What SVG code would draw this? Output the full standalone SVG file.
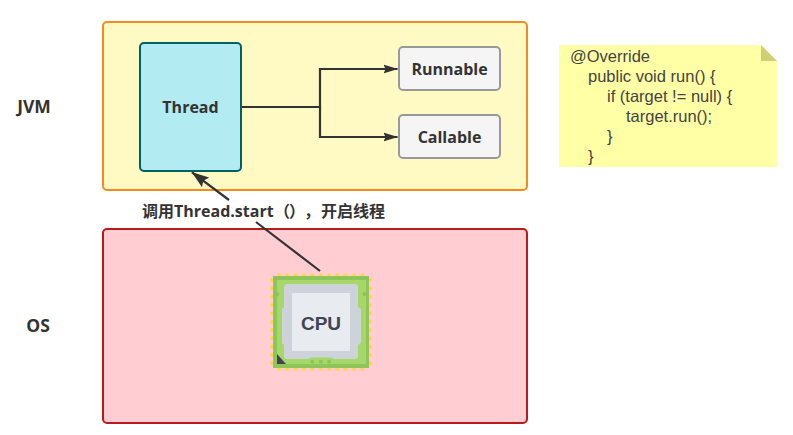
<svg xmlns="http://www.w3.org/2000/svg" width="793" height="435" viewBox="0 0 793 435">
<style>
text{font-family:"Open Sans","Noto Sans CJK SC","Liberation Sans",sans-serif;fill:#333}
.b{font-weight:700;font-size:16px;text-anchor:middle;dominant-baseline:central}
.side{font-size:17.500px}
.code{font-size:16.500px;font-family:"Liberation Sans","Open Sans",sans-serif;fill:#444}
.line{fill:none;stroke:#333;stroke-width:2.200}
.box{fill:#f5f5f5;stroke:#999;stroke-width:2}
.dot{fill:#ffd54f}
.pin{fill:#8fc45a}
</style>
<defs>
<marker id="arr" markerUnits="userSpaceOnUse" markerWidth="15" markerHeight="11" refX="14" refY="5.500" orient="auto"><path d="M0,1L14.500,5.500L0,10L2,5.500Z" fill="#333"/></marker>
<marker id="arr2" markerUnits="userSpaceOnUse" markerWidth="18" markerHeight="14" refX="17" refY="7" orient="auto"><path d="M0,1L17.500,7L0,13L3,7Z" fill="#333"/></marker>
</defs>
<rect width="793" height="435" fill="#fff"/>
<g id="jvm"><rect x="103" y="22" width="424" height="168" rx="4" fill="#fff9c4" stroke="#f58a1f" stroke-width="2"/></g>
<g id="os"><rect x="103" y="229" width="424" height="194" rx="4" fill="#ffcdd2" stroke="#b71c1c" stroke-width="2"/></g>
<g id="connectors">
<path class="line" d="M242 107H320V69H397.500" marker-end="url(#arr)"/>
<path class="line" d="M320 107V137H397.500" marker-end="url(#arr)"/>
<path class="line" d="M229 200L192 172.300" marker-end="url(#arr2)"/>
<path class="line" d="M256 222L320 271"/>
</g>
<g id="thread"><rect x="140" y="43" width="101" height="128" rx="4" fill="#b2ebf2" stroke="#006064" stroke-width="2"/><text class="b" x="190.500" y="107">Thread</text></g>
<g id="runnable"><rect class="box" x="399" y="47" width="101" height="43" rx="4"/><text class="b" x="449.500" y="69">Runnable</text></g>
<g id="callable"><rect class="box" x="399" y="115" width="101" height="43" rx="4"/><text class="b" x="449.500" y="137">Callable</text></g>
<g id="label-jvm"><text class="b side" x="34" y="106">JVM</text></g>
<g id="label-os"><text class="b side" x="38" y="325">OS</text></g>
<g id="call-label"><text y="211" font-size="16" font-weight="700" dominant-baseline="central"><tspan x="142">调用Thread.start</tspan><tspan x="274">（</tspan><tspan x="289">）</tspan><tspan x="304">，</tspan><tspan x="321">开启线程</tspan></text></g>
<g id="cpu">
<g class="dot">
<circle cx="279" cy="275" r="2"/><circle cx="287.300" cy="275" r="2"/><circle cx="295.700" cy="275" r="2"/><circle cx="304" cy="275" r="2"/><circle cx="312.300" cy="275" r="2"/><circle cx="320.700" cy="275" r="2"/><circle cx="329" cy="275" r="2"/><circle cx="337.300" cy="275" r="2"/><circle cx="345.700" cy="275" r="2"/><circle cx="354" cy="275" r="2"/><circle cx="362.300" cy="275" r="2"/>
<circle cx="279" cy="369" r="2"/><circle cx="287.300" cy="369" r="2"/><circle cx="295.700" cy="369" r="2"/><circle cx="304" cy="369" r="2"/><circle cx="312.300" cy="369" r="2"/><circle cx="320.700" cy="369" r="2"/><circle cx="329" cy="369" r="2"/><circle cx="337.300" cy="369" r="2"/><circle cx="345.700" cy="369" r="2"/><circle cx="354" cy="369" r="2"/><circle cx="362.300" cy="369" r="2"/>
<circle cx="272" cy="280" r="2"/><circle cx="272" cy="288.300" r="2"/><circle cx="272" cy="296.700" r="2"/><circle cx="272" cy="305" r="2"/><circle cx="272" cy="313.300" r="2"/><circle cx="272" cy="321.700" r="2"/><circle cx="272" cy="330" r="2"/><circle cx="272" cy="338.300" r="2"/><circle cx="272" cy="346.700" r="2"/><circle cx="272" cy="355" r="2"/><circle cx="272" cy="363.300" r="2"/>
<circle cx="370" cy="280" r="2"/><circle cx="370" cy="288.300" r="2"/><circle cx="370" cy="296.700" r="2"/><circle cx="370" cy="305" r="2"/><circle cx="370" cy="313.300" r="2"/><circle cx="370" cy="321.700" r="2"/><circle cx="370" cy="330" r="2"/><circle cx="370" cy="338.300" r="2"/><circle cx="370" cy="346.700" r="2"/><circle cx="370" cy="355" r="2"/><circle cx="370" cy="363.300" r="2"/>
</g>
<rect x="273" y="276" width="96" height="92" fill="#8fc45a"/>
<rect x="277" y="280" width="89" height="84" fill="#a5d868"/>
<circle class="pin" cx="277.300" cy="294" r="2"/><circle class="pin" cx="364.300" cy="294" r="2"/>
<circle class="pin" cx="312.300" cy="361.700" r="2"/><circle class="pin" cx="320.700" cy="361.700" r="2"/><circle class="pin" cx="329" cy="361.700" r="2"/>
<path d="M287 284H355Q358 284 358 287V307L361 309V343L358 345V356Q358 359 355 359H334L331 357.500H311L308 359H287Q284 359 284 356V345L282 343V309L284 307V287Q284 284 287 284Z" fill="#ced2db"/>
<rect x="292" y="293" width="58" height="58" fill="#e8ebf0"/>
<path d="M277 354L286 364H277Z" fill="#3e4553"/>
<text x="321" y="323" font-size="19" font-weight="700" text-anchor="middle" dominant-baseline="central" style="font-family:'Liberation Sans',sans-serif;fill:#3e4553">CPU</text>
</g>
<g id="note">
<path d="M559 45H761L777 61V167H559Z" fill="#ffffa5"/>
<path d="M761 45L777 61H761Z" fill="#cfcf75"/>
<text class="code" x="570" y="62">@Override</text>
<text class="code" x="588" y="82">public void run() {</text>
<text class="code" x="607" y="102">if (target != null) {</text>
<text class="code" x="626" y="122">target.run();</text>
<text class="code" x="607" y="142">}</text>
<text class="code" x="588" y="162">}</text>
</g>
</svg>
